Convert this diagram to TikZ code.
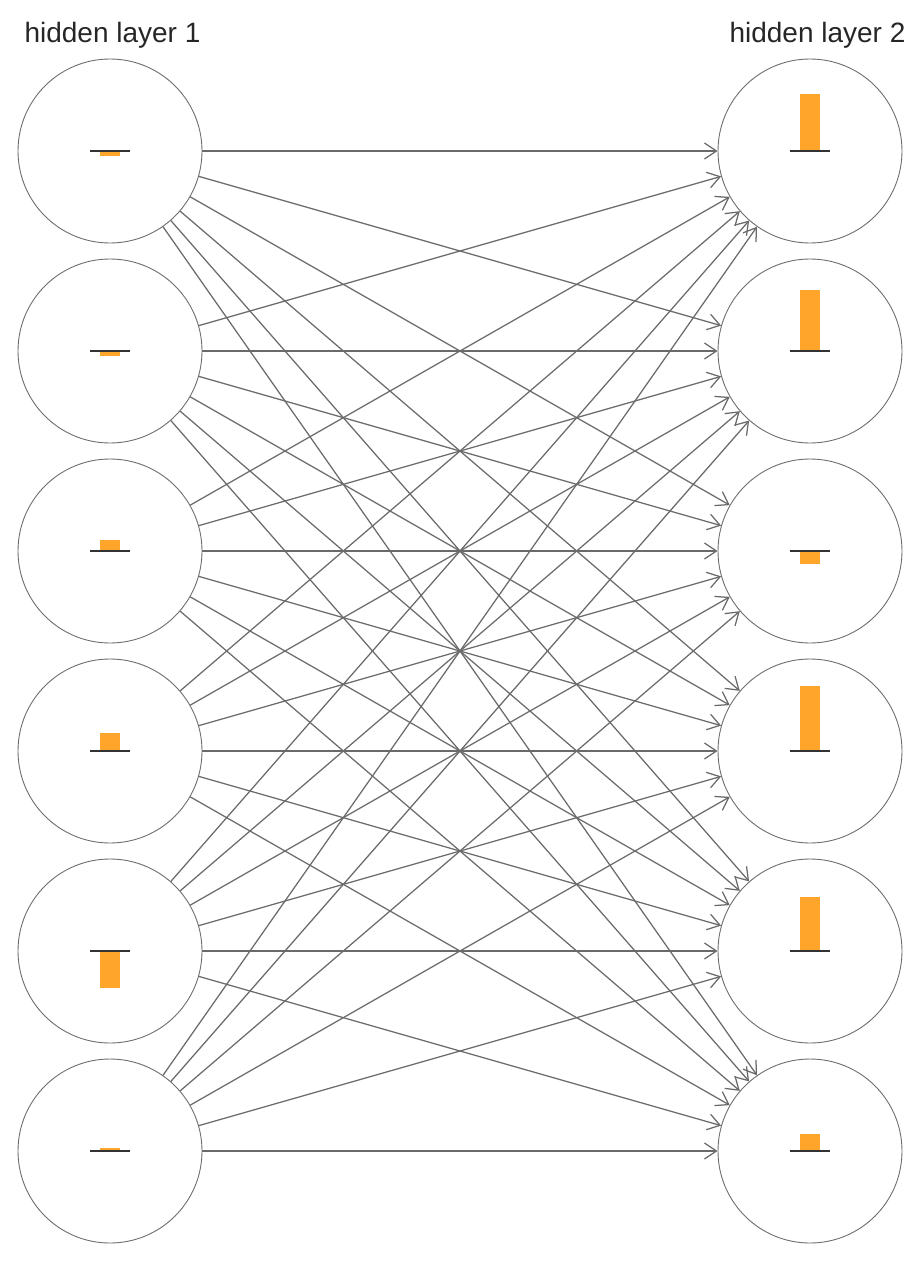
\documentclass[tikz,border=0pt]{standalone}
\usepackage{fontspec}
\setmainfont{Liberation Sans}
\usetikzlibrary{arrows.meta}
\definecolor{bar}{HTML}{FFA52C}
\definecolor{edge}{HTML}{6A6A6A}
\definecolor{ring}{HTML}{6E6E6E}
\definecolor{base}{HTML}{333333}
\tikzset{
  neuron/.style={circle, draw=ring, line width=0.9pt, minimum size=184pt, inner sep=0pt, fill=white},
  link/.style={draw=edge, line width=1.25pt, -{Straight Barb[length=12pt,width=16pt,line width=1.25pt]}},
  barfill/.style={fill=bar, draw=none},
  baseline/.style={draw=base, line width=2pt},
  title/.style={font=\fontsize{28}{30}\selectfont, text=black!85}
}
\begin{document}
\begin{tikzpicture}[x=1pt,y=-1pt]
\useasboundingbox (0,0) rectangle (922,1264);
\node[title, anchor=base west] (t1) at (21,42) {hidden layer 1};
\node[title, anchor=base east] (t2) at (909,42) {hidden layer 2};
\foreach \i in {1,...,6}{
  \pgfmathsetmacro{\yy}{151+200*(\i-1)}
  \node[neuron] (L\i) at (110,\yy) {};
  \node[neuron] (R\i) at (810,\yy) {};
}
\foreach \i in {1,...,6}{
  \foreach \j in {1,...,6}{
    \draw[link] (L\i) -- (R\j);
  }
}
\foreach \i/\lv/\rv in {1/-5/57, 2/-5/61, 3/11/-13, 4/18/65, 5/-37/54, 6/3/17}{
  \pgfmathsetmacro{\yy}{151+200*(\i-1)}
  \fill[barfill] (100,\yy) rectangle (120,\yy-\lv);
  \fill[barfill] (800,\yy) rectangle (820,\yy-\rv);
  \draw[baseline] (90,\yy) -- (130,\yy);
  \draw[baseline] (790,\yy) -- (830,\yy);
}
\end{tikzpicture}
\end{document}
